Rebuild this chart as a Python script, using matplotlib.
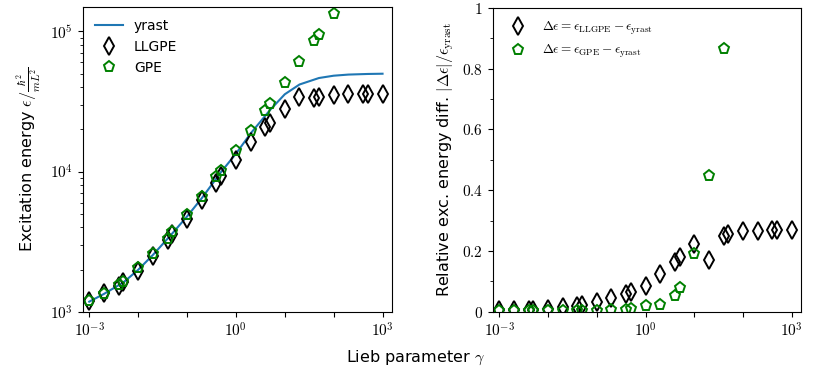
"""
Energia de excitacion vs parametro de Lieb: yrast, LLGPE y GPE.
"""

import matplotlib
matplotlib.use("Agg")
import matplotlib.pyplot as plt
import numpy as np
from matplotlib.ticker import FixedLocator, FuncFormatter, MultipleLocator, NullFormatter, NullLocator

plt.rcParams["mathtext.fontset"] = "cm"

# parametro de Lieb de cada simulacion
gamma = [1e-3, 2e-3, 4e-3, 5e-3, 1e-2, 2e-2, 4e-2, 5e-2, 1e-1, 2e-1, 4e-1, 5e-1,
         1, 2, 4, 5, 10, 20, 40, 50, 100, 200, 400, 500, 1000]

e_llgpe = [1200, 1353, 1535, 1623, 1968, 2516, 3260, 3596, 4600, 6240, 8340, 9310,
           12190, 16300, 20900, 22300, 27800, 34300, 33300, 34300, 35200, 35600, 35800, 35800, 35800]

# GPE solo hasta gamma=100 (lo demas se sale del rango)
gamma_gpe = gamma[:21]
e_gpe = [1200, 1345, 1550, 1640, 2040, 2560, 3310, 3700, 4860, 6590, 9160, 10050,
         14060, 19450, 27200, 30300, 42700, 60300, 84800, 94600, 134000]

# curva yrast
gamma_yrast = [1e-3, 2e-3, 5e-3, 1e-2, 2e-2, 5e-2, 1e-1, 2e-1, 5e-1, 1, 2, 5,
               10, 20, 50, 100, 200, 500, 1000]
e_yrast = [1180, 1340, 1620, 1990, 2540, 3620, 4780, 6450, 9950, 13400, 18700, 27500,
           35600, 41800, 46500, 48300, 49200, 49700, 49900]

# diferencia relativa |de|/e_yrast
d_llgpe = [0.005, 0.005, 0.006, 0.006, 0.009, 0.014, 0.020, 0.023, 0.031, 0.044, 0.058, 0.064,
           0.083, 0.124, 0.162, 0.179, 0.223, 0.171, 0.250, 0.256, 0.267, 0.267, 0.269, 0.269, 0.269]
gamma_dgpe = gamma[:19]
d_gpe = [0.003, 0.003, 0.003, 0.003, 0.003, 0.003, 0.003, 0.003, 0.003, 0.004, 0.006, 0.009,
         0.018, 0.021, 0.053, 0.078, 0.190, 0.446, 0.865]

XLIM = (10 ** -3.135, 10 ** 3.187)


def fmt_dec(x, pos):
    e = int(round(np.log10(x)))
    if e % 3 != 0:
        return ""
    return r"$10^{%d}$" % e


def fmt_lin(x, pos):
    return r"$%g$" % round(x, 2)


def ejes_x(ax):
    ax.set_xscale("log")
    ax.set_xlim(*XLIM)
    ax.xaxis.set_major_locator(FixedLocator(10.0 ** np.arange(-3, 4)))
    ax.xaxis.set_major_formatter(FuncFormatter(fmt_dec))
    ax.xaxis.set_minor_locator(NullLocator())
    ax.tick_params(axis="both", labelsize=11)


fig = plt.figure(figsize=(8.3, 3.8), dpi=100)
ax1 = fig.add_axes([0.0996, 0.1797, 0.3723, 0.8026])
ax2 = fig.add_axes([0.5936, 0.1797, 0.3714, 0.8000])

mk = dict(ls="none", mfc="none", mew=1.4)

ax1.plot(gamma_yrast, e_yrast, color="#1f77b4", lw=1.5, label="yrast")
ax1.plot(gamma, e_llgpe, marker="d", ms=9, mec="black", label="LLGPE", **mk)
ax1.plot(gamma_gpe, e_gpe, marker="p", ms=8, mec="green", label="GPE", **mk)
ax1.set_yscale("log")
ax1.set_ylim(1e3, 1.5e5)
ejes_x(ax1)
ax1.yaxis.set_major_formatter(FuncFormatter(lambda x, p: r"$10^{%d}$" % int(round(np.log10(x)))))
ax1.yaxis.set_minor_formatter(NullFormatter())
ax1.set_ylabel(r"Excitation energy $\epsilon/\frac{\hbar^2}{mL^2}$", fontsize=11.5)
ax1.legend(loc="upper left", frameon=False, fontsize=10)

ax2.plot(gamma, d_llgpe, marker="d", ms=9, mec="black",
         label=r"$\Delta\epsilon = \epsilon_{\rm LLGPE} - \epsilon_{\rm yrast}$", **mk)
ax2.plot(gamma_dgpe, d_gpe, marker="p", ms=8, mec="green",
         label=r"$\Delta\epsilon = \epsilon_{\rm GPE} - \epsilon_{\rm yrast}$", **mk)
ax2.set_ylim(0, 1)
ejes_x(ax2)
ax2.yaxis.set_major_locator(MultipleLocator(0.2))
ax2.yaxis.set_minor_locator(MultipleLocator(0.1))
ax2.yaxis.set_major_formatter(FuncFormatter(fmt_lin))
ax2.set_ylabel(r"Relative exc. energy diff. $|\Delta\epsilon|/\epsilon_{\rm yrast}$", fontsize=11.5)
ax2.legend(loc="upper left", frameon=False, fontsize=9.5)

fig.text(0.501, 0.058, r"Lieb parameter $\gamma$", ha="center", va="center", fontsize=11.5)

fig.savefig("out.png", dpi=100)
